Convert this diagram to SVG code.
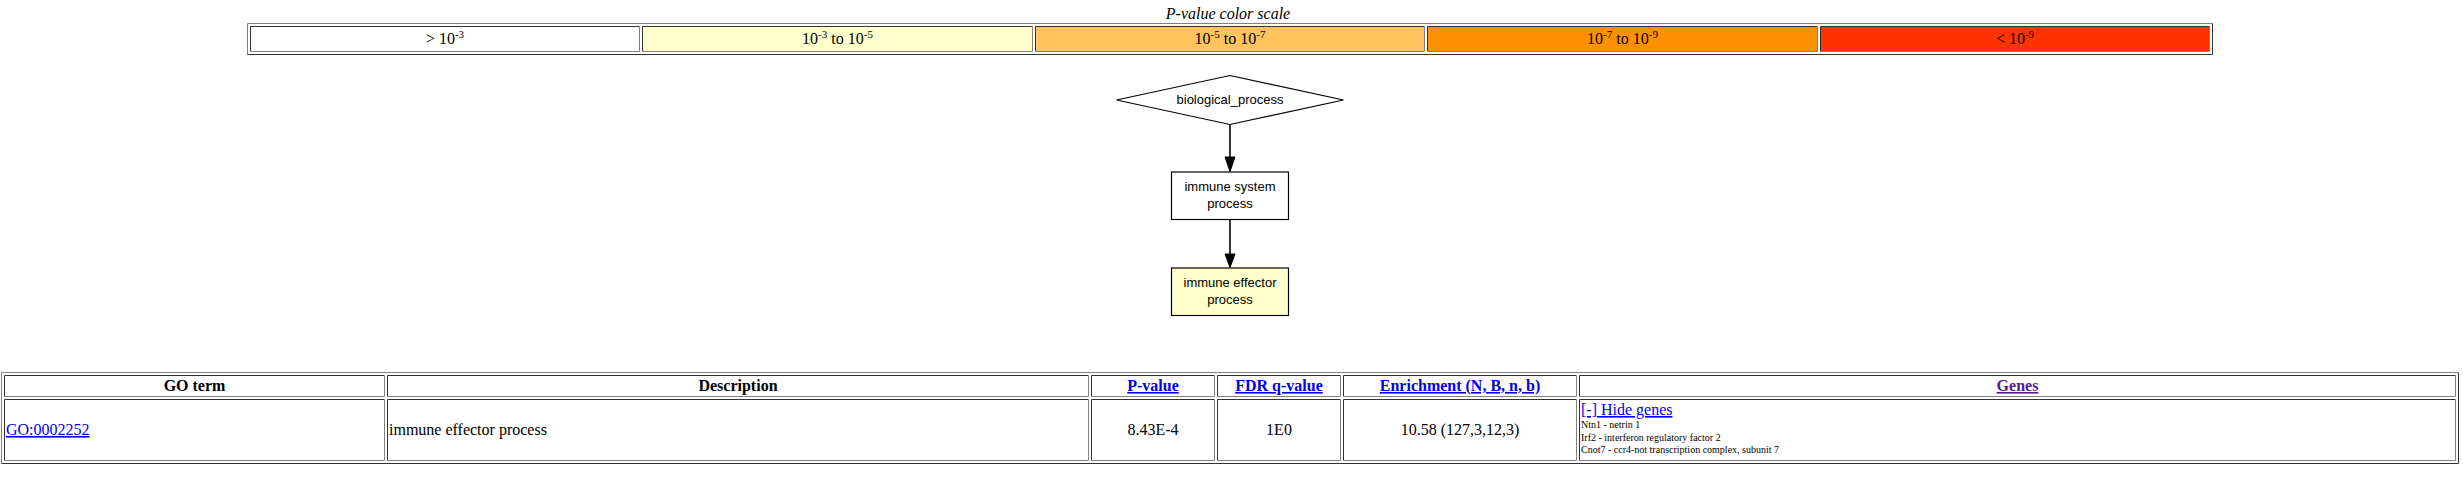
<svg xmlns="http://www.w3.org/2000/svg" width="2463" height="479" viewBox="0 0 2463 479">
<style>
.serif{font-family:"Liberation Serif","Times New Roman",serif;font-size:16px;fill:#000}
.sans{font-family:"Liberation Sans",Arial,sans-serif;font-size:13px;fill:#000}
.mid{text-anchor:middle}
.b{font-weight:bold}
.link{fill:#0000EE;text-decoration:underline}
.vis{fill:#551A8B;text-decoration:underline}
.lt{fill:none;stroke:#808080;stroke-width:1}
.dk{fill:none;stroke:#333333;stroke-width:1}
.sup{font-size:11px}
.small{font-size:10px}
.node{stroke:#000;stroke-width:1.2}
.edge{stroke:#000;stroke-width:1.6;fill:none}
.head{fill:#000;stroke:#000;stroke-width:1}
</style>

<g id="color-scale">
  <text class="serif mid" x="1228" y="19" font-style="italic">P-value color scale</text>
  <path class="lt" d="M247.5,54.5 V23.5 H2212.5"/>
  <path class="dk" d="M2212.5,23.5 V54.5 H247.5"/>
  <rect x="250.5" y="26.5" width="389" height="25" fill="#FFFFFF"/>
  <rect x="642.5" y="26.5" width="390" height="25" fill="#FFFFCC"/>
  <rect x="1035.5" y="26.5" width="389" height="25" fill="#FFC45E"/>
  <rect x="1427.5" y="26.5" width="390" height="25" fill="#FF9000"/>
  <rect x="1820.5" y="26.5" width="389" height="25" fill="#FF3300"/>
  <path class="dk" d="M250.5,51.5 V26.5 H639.5 M642.5,51.5 V26.5 H1032.5 M1035.5,51.5 V26.5 H1424.5 M1427.5,51.5 V26.5 H1817.5 M1820.5,51.5 V26.5 H2209.5"/>
  <path class="lt" d="M639.5,26.5 V51.5 H250.5 M1032.5,26.5 V51.5 H642.5 M1424.5,26.5 V51.5 H1035.5 M1817.5,26.5 V51.5 H1427.5 M2209.5,26.5 V51.5 H1820.5"/>
  <text class="serif mid" x="445" y="44">&gt; 10<tspan class="sup" dy="-6">-3</tspan></text>
  <text class="serif mid" x="837.5" y="44">10<tspan class="sup" dy="-6">-3</tspan><tspan dy="6"> to 10</tspan><tspan class="sup" dy="-6">-5</tspan></text>
  <text class="serif mid" x="1230" y="44">10<tspan class="sup" dy="-6">-5</tspan><tspan dy="6"> to 10</tspan><tspan class="sup" dy="-6">-7</tspan></text>
  <text class="serif mid" x="1622.5" y="44">10<tspan class="sup" dy="-6">-7</tspan><tspan dy="6"> to 10</tspan><tspan class="sup" dy="-6">-9</tspan></text>
  <text class="serif mid" x="2015" y="44">&lt; 10<tspan class="sup" dy="-6">-9</tspan></text>
</g>

<g id="connectors">
  <line class="edge" x1="1230" y1="124.5" x2="1230" y2="157"/>
  <polygon class="head" points="1225,157 1235,157 1230,171.5"/>
  <line class="edge" x1="1230" y1="220" x2="1230" y2="254"/>
  <polygon class="head" points="1225,254 1235,254 1230,267.5"/>
</g>

<g id="node-biological_process">
  <polygon class="node" points="1230,75.5 1343.5,100 1230,124.5 1116.5,100" fill="#FFFFFF"/>
  <text class="sans mid" x="1230" y="104">biological_process</text>
</g>

<g id="node-immune_system_process">
  <rect class="node" x="1171.5" y="172" width="117" height="47.5" fill="#FFFFFF"/>
  <text class="sans mid" x="1230" y="191">immune system</text>
  <text class="sans mid" x="1230" y="208">process</text>
</g>

<g id="node-immune_effector_process">
  <rect class="node" x="1171.5" y="268" width="117" height="47.5" fill="#FFFFCC"/>
  <text class="sans mid" x="1230" y="287">immune effector</text>
  <text class="sans mid" x="1230" y="304">process</text>
</g>

<g id="results-table">
  <path class="lt" d="M1.5,463.5 V372.5 H2458.5"/>
  <path class="dk" d="M2458.5,372.5 V463.5 H1.5"/>
  <!-- header cells -->
  <path class="dk" d="M4.5,396.5 V375.5 H384.5 M387.5,396.5 V375.5 H1088.5 M1091.5,396.5 V375.5 H1214.5 M1217.5,396.5 V375.5 H1340.5 M1343.5,396.5 V375.5 H1576.5 M1579.5,396.5 V375.5 H2455.5"/>
  <path class="lt" d="M384.5,375.5 V396.5 H4.5 M1088.5,375.5 V396.5 H387.5 M1214.5,375.5 V396.5 H1091.5 M1340.5,375.5 V396.5 H1217.5 M1576.5,375.5 V396.5 H1343.5 M2455.5,375.5 V396.5 H1579.5"/>
  <!-- row cells -->
  <path class="dk" d="M4.5,460.5 V399.5 H384.5 M387.5,460.5 V399.5 H1088.5 M1091.5,460.5 V399.5 H1214.5 M1217.5,460.5 V399.5 H1340.5 M1343.5,460.5 V399.5 H1576.5 M1579.5,460.5 V399.5 H2455.5"/>
  <path class="lt" d="M384.5,399.5 V460.5 H4.5 M1088.5,399.5 V460.5 H387.5 M1214.5,399.5 V460.5 H1091.5 M1340.5,399.5 V460.5 H1217.5 M1576.5,399.5 V460.5 H1343.5 M2455.5,399.5 V460.5 H1579.5"/>

  <text class="serif mid b" x="194.5" y="391">GO term</text>
  <text class="serif mid b" x="738" y="391">Description</text>
  <text class="serif mid b link" x="1153" y="391">P-value</text>
  <text class="serif mid b link" x="1279" y="391">FDR q-value</text>
  <text class="serif mid b link" x="1460" y="391">Enrichment (N, B, n, b)</text>
  <text class="serif mid b vis" x="2017.5" y="391">Genes</text>

  <text class="serif link" x="6" y="435">GO:0002252</text>
  <text class="serif" x="389" y="435">immune effector process</text>
  <text class="serif mid" x="1153" y="435">8.43E-4</text>
  <text class="serif mid" x="1279" y="435">1E0</text>
  <text class="serif mid" x="1460" y="435">10.58 (127,3,12,3)</text>
  <text class="serif link" x="1581" y="415">[-] Hide genes</text>
  <text class="serif small" x="1581" y="428">Ntn1 - netrin 1</text>
  <text class="serif small" x="1581" y="440.5">Irf2 - interferon regulatory factor 2</text>
  <text class="serif small" x="1581" y="453">Cnot7 - ccr4-not transcription complex, subunit 7</text>
</g>
</svg>
